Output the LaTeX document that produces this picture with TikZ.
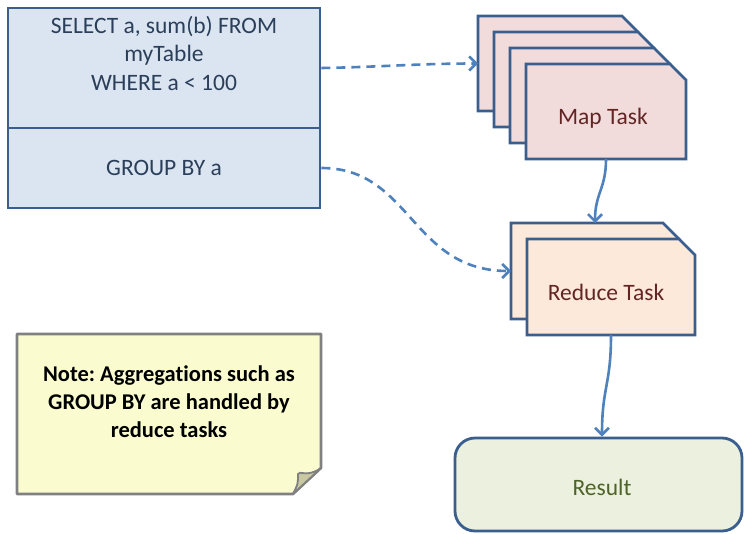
\documentclass[tikz,border=0pt]{standalone}
\usepackage{fontspec}
\setmainfont{Carlito}[Ligatures=NoCommon]
\frenchspacing
\usetikzlibrary{arrows.meta,backgrounds,calc}
\definecolor{bord}{HTML}{3A5F8E}
\definecolor{qfill}{HTML}{DBE5F1}
\definecolor{qtext}{HTML}{2B3F5A}
\definecolor{mfill}{HTML}{F2DCDB}
\definecolor{rfill}{HTML}{FDE9D9}
\definecolor{ctext}{HTML}{632523}
\definecolor{resfill}{HTML}{EBF1DE}
\definecolor{restext}{HTML}{4F6228}
\definecolor{nfill}{HTML}{FAFCD0}
\definecolor{nbord}{HTML}{808080}
\definecolor{nfold}{HTML}{C8C9A0}
\definecolor{conn}{HTML}{4F81BD}
\newcommand\cardpath[2]{%
  \path[#2] (#1.south west) -- (#1.north west) -- ([xshift=-16pt]#1.north east)
    -- ([yshift=-16pt]#1.north east) -- (#1.south east) -- cycle;}
\begin{document}
\begin{tikzpicture}[x=1pt,y=-1pt,
  every node/.style={font=\fontsize{23.5}{28.5}\selectfont},
  slot/.style={minimum width=#1, inner sep=0pt, outer sep=0pt},
  cardshape/.style={draw=bord, line width=2.8pt, line join=miter},
  linkdash/.style={draw=conn, line width=2.6pt, dash pattern=on 9pt off 6pt,
    -{Straight Barb[length=7pt,width=14pt,line width=2.6pt]}},
  linksolid/.style={draw=conn, line width=2.6pt,
    -{Straight Barb[length=7pt,width=14pt,line width=2.6pt]}}]
\begin{pgfonlayer}{background}
\fill[white] (0,0) rectangle (744,533);
\end{pgfonlayer}
\useasboundingbox (0,0) rectangle (744,533);

% query box
\node[draw=bord, fill=qfill, line width=2.8pt, minimum width=312pt, minimum height=120pt, inner sep=0pt] (q1) at (164,68) {};
\node[draw=bord, fill=qfill, line width=2.8pt, minimum width=312pt, minimum height=80pt, inner sep=0pt, text=qtext] (q2) at (164,168) {GROUP BY a};
\node[text=qtext, align=center] (qt) at (164,53) {SELECT a, sum(b) FROM\\myTable\\WHERE a < 100};

% map tasks
\node[slot=160pt, minimum height=95pt] (map1) at (558,63.5) {};
\node[slot=160pt, minimum height=95pt] (map2) at (574,79.5) {};
\node[slot=160pt, minimum height=95pt] (map3) at (590,95.5) {};
\node[slot=160pt, minimum height=95pt,
  label={[text=ctext, xshift=-3pt, yshift=-7pt]center:Map Task}] (map4) at (606,111.5) {};

% reduce tasks
\node[slot=168pt, minimum height=96pt] (red1) at (595,271) {};
\node[slot=168pt, minimum height=96pt,
  label={[text=ctext, xshift=-5pt, yshift=-5pt]center:Reduce Task}] (red2) at (611,287) {};

\begin{pgfonlayer}{background}
\cardpath{map1}{cardshape, fill=mfill}
\cardpath{map2}{cardshape, fill=mfill}
\cardpath{map3}{cardshape, fill=mfill}
\cardpath{map4}{cardshape, fill=mfill}
\cardpath{red1}{cardshape, fill=rfill}
\cardpath{red2}{cardshape, fill=rfill}
\end{pgfonlayer}

% result
\node[draw=bord, fill=resfill, line width=2.8pt, rounded corners=20pt, minimum width=287pt, minimum height=93pt, inner sep=0pt,
  label={[text=restext, xshift=3.5pt, yshift=-3pt]center:Result}] (res) at (598.5,484.5) {};

% note
\node[slot=304pt, minimum height=160pt] (note) at (169,414) {};
\begin{pgfonlayer}{background}
\path[draw=nbord, fill=nfill, line width=2.6pt, line join=round]
  (note.north west) -- (note.north east) -- ([yshift=26pt]note.south east)
  -- ([xshift=-28pt]note.south east) -- (note.south west) -- cycle;
\path[draw=nbord, fill=nfold, line width=1.8pt, line join=round]
  ([yshift=26pt]note.south east) .. controls ([xshift=-14pt,yshift=16pt]note.south east) and ([xshift=-22pt,yshift=24pt]note.south east) .. ([xshift=-23pt,yshift=20pt]note.south east)
  .. controls ([xshift=-23pt,yshift=10pt]note.south east) .. ([xshift=-28pt]note.south east) -- cycle;
\end{pgfonlayer}
\node[align=center, font=\fontsize{22.5}{28}\selectfont\bfseries] (nt) at (169,402) {Note: Aggregations such as\\GROUP BY are handled by\\reduce tasks};

% connectors
\draw[linkdash] (q1.east) .. controls +(60pt,1pt) and +(-60pt,0pt) .. (map1.west);
\draw[linkdash] (q2.east) .. controls +(90pt,0pt) and +(-100pt,0pt) .. (red1.west);
\draw[linksolid] (map4.south) .. controls +(0pt,-30pt) and +(0pt,30pt) .. (red1.north);
\draw[linksolid] (red2.south) .. controls +(0pt,-50pt) and +(0pt,50pt) .. ([xshift=3.5pt]res.north);
\end{tikzpicture}
\end{document}
